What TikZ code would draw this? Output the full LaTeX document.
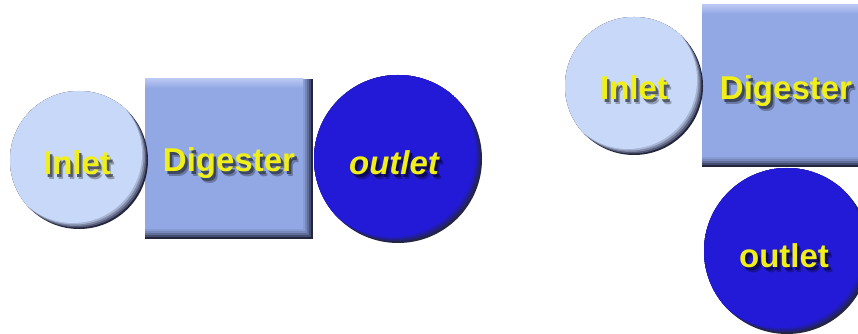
\documentclass[tikz,border=0pt]{standalone}
\usepackage{fontspec}
\setmainfont{Liberation Sans}
\usetikzlibrary{calc}

\definecolor{inletc}{RGB}{200,216,248}
\definecolor{digc}{RGB}{146,168,228}
\definecolor{digtop}{RGB}{184,198,242}
\definecolor{outc}{RGB}{34,26,214}
\definecolor{rim}{RGB}{36,38,62}
\definecolor{txt}{RGB}{240,240,24}

\tikzset{
  % round button: dark rim seen at lower right, face shifted up-left
  disc/.style n args={2}{circle, inner sep=0pt, minimum size=2*#2, fill=rim,
    path picture={
      \foreach \k/\m in {1.5/30,3/55,4.5/80,6/100}
        \fill[#1!\m!rim] ($(path picture bounding box.center)+(-\k,\k)$) circle (#2);
    }},
  % square button: bevelled dark edge along right and bottom
  panel/.style n args={3}{rectangle, inner sep=0pt, minimum width=#2, minimum height=#3, fill=rim,
    path picture={
      \foreach \k/\m in {2/30,4/55,6/75,8/90,10/100}
        \fill[#1!\m!rim] (path picture bounding box.north west)
          rectangle ($(path picture bounding box.south east)+(-\k,\k)$);
      \shade[top color=digtop, bottom color=#1]
        (path picture bounding box.north west)
          rectangle ($(path picture bounding box.north east)+(-10,-9)$);
    }},
  lbl/.style={anchor=base, inner sep=0pt,
    font=\fontsize{33}{36}\selectfont\bfseries},
}

% yellow caption with a soft drop shadow tinted by the face colour
\newcommand{\dropcap}[2]{%
  \rlap{\raisebox{-5pt}{\hspace*{4pt}\textcolor{#1!72!black}{#2}}}%
  \rlap{\raisebox{-3pt}{\hspace*{2.5pt}\textcolor{#1!42!black}{#2}}}%
  \textcolor{txt}{#2}}

\begin{document}
\begin{tikzpicture}[x=1pt,y=1pt]
  \useasboundingbox (0,0) rectangle (858,334);
  \fill[white] (0,0) rectangle (858,334);
  \clip (0,0) rectangle (858,334);

  % horizontal arrangement
  \node[panel={digc}{168}{160}] (dg1) at (229,175) {};
  \node[disc={inletc}{69}] (in1) at (79,174) {};
  \node[disc={outc}{84}] (out1) at (398,175) {};
  \node[lbl] (t-in1) at (77,159) {\dropcap{inletc}{Inlet}};
  \node[lbl] (t-dg1) at (229,162) {\dropcap{digc}{Digester}};
  \node[lbl] (t-out1) at (394,159) {\itshape\dropcap{outc}{outlet}};

  % corner arrangement
  \node[panel={digc}{168}{162}] (dg2) at (786,248) {};
  \node[disc={inletc}{69}] (in2) at (634,248) {};
  \node[disc={outc}{83}] (out2) at (787,83) {};
  \node[lbl] (t-in2) at (634,234) {\dropcap{inletc}{Inlet}};
  \node[lbl] (t-dg2) at (786,234) {\dropcap{digc}{Digester}};
  \node[lbl] (t-out2) at (784,66) {\dropcap{outc}{outlet}};
\end{tikzpicture}
\end{document}
